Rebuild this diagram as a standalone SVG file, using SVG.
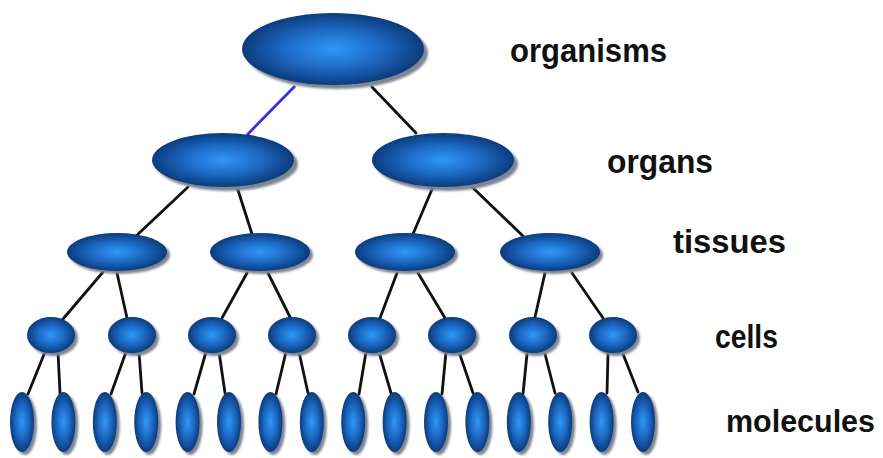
<svg xmlns="http://www.w3.org/2000/svg" width="883" height="458" viewBox="0 0 883 458">
<style>
.n{fill:url(#g);}
.s{fill:#7d8692;filter:url(#b);}
.c{stroke:#111;stroke-width:2.8;fill:none;stroke-linecap:round;}
.lbl{font-family:"Liberation Sans",Arial,sans-serif;font-weight:bold;font-size:33px;fill:#111;}
</style>
<defs>
<radialGradient id="g" cx="50%" cy="50%" r="50%">
<stop offset="0" stop-color="#2f98f8"/>
<stop offset="0.55" stop-color="#1c68c2"/>
<stop offset="1" stop-color="#0c3b7c"/>
</radialGradient>
<filter id="b" x="-20%" y="-20%" width="140%" height="140%"><feGaussianBlur stdDeviation="1.2"/></filter>
</defs>
<rect width="883" height="458" fill="#fff"/>
<g id="connectors">
<line x1="295" y1="86" x2="247" y2="135" stroke="#3a32e0" stroke-width="2.8"/>
<line class="c" x1="372" y1="87" x2="416" y2="133"/>
<line class="c" x1="188" y1="187" x2="135" y2="237"/>
<line class="c" x1="237" y1="187" x2="252" y2="234"/>
<line class="c" x1="433" y1="187" x2="413" y2="234"/>
<line class="c" x1="470" y1="185" x2="523" y2="236"/>
<line class="c" x1="103" y1="272" x2="63" y2="319"/>
<line class="c" x1="117" y1="273" x2="127" y2="318"/>
<line class="c" x1="247" y1="273" x2="222" y2="318"/>
<line class="c" x1="268" y1="273" x2="290" y2="317"/>
<line class="c" x1="397" y1="273" x2="380" y2="318"/>
<line class="c" x1="418" y1="273" x2="445" y2="318"/>
<line class="c" x1="545" y1="273" x2="535" y2="317"/>
<line class="c" x1="572" y1="273" x2="603" y2="318"/>
<line class="c" x1="45" y1="352" x2="28" y2="394"/>
<line class="c" x1="58" y1="352" x2="60" y2="393"/>
<line class="c" x1="126" y1="352" x2="111" y2="394"/>
<line class="c" x1="139" y1="352" x2="142" y2="393"/>
<line class="c" x1="206" y1="352" x2="194" y2="394"/>
<line class="c" x1="219" y1="352" x2="225" y2="393"/>
<line class="c" x1="286" y1="352" x2="276" y2="394"/>
<line class="c" x1="299" y1="352" x2="308" y2="393"/>
<line class="c" x1="366" y1="352" x2="359" y2="394"/>
<line class="c" x1="379" y1="352" x2="391" y2="393"/>
<line class="c" x1="446" y1="352" x2="442" y2="394"/>
<line class="c" x1="459" y1="352" x2="473" y2="393"/>
<line class="c" x1="527" y1="354" x2="523" y2="394"/>
<line class="c" x1="545" y1="354" x2="555" y2="393"/>
<line class="c" x1="608" y1="354" x2="607" y2="393"/>
<line class="c" x1="623" y1="354" x2="638" y2="392"/>
</g>
<g id="organisms"><ellipse class="s" cx="337" cy="53" rx="91" ry="36"/><ellipse class="n" cx="333" cy="49" rx="91" ry="36"/></g>
<g id="organ1"><ellipse class="s" cx="227" cy="164" rx="71" ry="27"/><ellipse class="n" cx="223" cy="160" rx="71" ry="27"/></g>
<g id="organ2"><ellipse class="s" cx="447" cy="164" rx="71" ry="27"/><ellipse class="n" cx="443" cy="160" rx="71" ry="27"/></g>
<g id="tissue1"><ellipse class="s" cx="120" cy="255" rx="50" ry="19"/><ellipse class="n" cx="117" cy="252" rx="50" ry="19"/></g>
<g id="tissue2"><ellipse class="s" cx="263" cy="255" rx="50" ry="19"/><ellipse class="n" cx="260" cy="252" rx="50" ry="19"/></g>
<g id="tissue3"><ellipse class="s" cx="408" cy="255" rx="50" ry="19"/><ellipse class="n" cx="405" cy="252" rx="50" ry="19"/></g>
<g id="tissue4"><ellipse class="s" cx="553" cy="255" rx="50" ry="19"/><ellipse class="n" cx="550" cy="252" rx="50" ry="19"/></g>
<g id="cell1"><ellipse class="s" cx="54" cy="338" rx="24" ry="18"/><ellipse class="n" cx="51" cy="335" rx="24" ry="18"/></g>
<g id="cell2"><ellipse class="s" cx="135" cy="338" rx="24" ry="18"/><ellipse class="n" cx="132" cy="335" rx="24" ry="18"/></g>
<g id="cell3"><ellipse class="s" cx="215" cy="338" rx="24" ry="18"/><ellipse class="n" cx="212" cy="335" rx="24" ry="18"/></g>
<g id="cell4"><ellipse class="s" cx="295" cy="338" rx="24" ry="18"/><ellipse class="n" cx="292" cy="335" rx="24" ry="18"/></g>
<g id="cell5"><ellipse class="s" cx="375" cy="338" rx="24" ry="18"/><ellipse class="n" cx="372" cy="335" rx="24" ry="18"/></g>
<g id="cell6"><ellipse class="s" cx="455" cy="338" rx="24" ry="18"/><ellipse class="n" cx="452" cy="335" rx="24" ry="18"/></g>
<g id="cell7"><ellipse class="s" cx="536" cy="338" rx="24" ry="18"/><ellipse class="n" cx="533" cy="335" rx="24" ry="18"/></g>
<g id="cell8"><ellipse class="s" cx="616" cy="338" rx="24" ry="18"/><ellipse class="n" cx="613" cy="335" rx="24" ry="18"/></g>
<g id="molecule1"><ellipse class="s" cx="25" cy="425" rx="12" ry="30"/><ellipse class="n" cx="22" cy="422" rx="12" ry="30"/></g>
<g id="molecule2"><ellipse class="s" cx="66.4" cy="425" rx="12" ry="30"/><ellipse class="n" cx="63.4" cy="422" rx="12" ry="30"/></g>
<g id="molecule3"><ellipse class="s" cx="107.8" cy="425" rx="12" ry="30"/><ellipse class="n" cx="104.8" cy="422" rx="12" ry="30"/></g>
<g id="molecule4"><ellipse class="s" cx="149.2" cy="425" rx="12" ry="30"/><ellipse class="n" cx="146.2" cy="422" rx="12" ry="30"/></g>
<g id="molecule5"><ellipse class="s" cx="190.6" cy="425" rx="12" ry="30"/><ellipse class="n" cx="187.6" cy="422" rx="12" ry="30"/></g>
<g id="molecule6"><ellipse class="s" cx="232" cy="425" rx="12" ry="30"/><ellipse class="n" cx="229" cy="422" rx="12" ry="30"/></g>
<g id="molecule7"><ellipse class="s" cx="273.4" cy="425" rx="12" ry="30"/><ellipse class="n" cx="270.4" cy="422" rx="12" ry="30"/></g>
<g id="molecule8"><ellipse class="s" cx="314.8" cy="425" rx="12" ry="30"/><ellipse class="n" cx="311.8" cy="422" rx="12" ry="30"/></g>
<g id="molecule9"><ellipse class="s" cx="356.2" cy="425" rx="12" ry="30"/><ellipse class="n" cx="353.2" cy="422" rx="12" ry="30"/></g>
<g id="molecule10"><ellipse class="s" cx="397.6" cy="425" rx="12" ry="30"/><ellipse class="n" cx="394.6" cy="422" rx="12" ry="30"/></g>
<g id="molecule11"><ellipse class="s" cx="439" cy="425" rx="12" ry="30"/><ellipse class="n" cx="436" cy="422" rx="12" ry="30"/></g>
<g id="molecule12"><ellipse class="s" cx="480.4" cy="425" rx="12" ry="30"/><ellipse class="n" cx="477.4" cy="422" rx="12" ry="30"/></g>
<g id="molecule13"><ellipse class="s" cx="521.8" cy="425" rx="12" ry="30"/><ellipse class="n" cx="518.8" cy="422" rx="12" ry="30"/></g>
<g id="molecule14"><ellipse class="s" cx="563.2" cy="425" rx="12" ry="30"/><ellipse class="n" cx="560.2" cy="422" rx="12" ry="30"/></g>
<g id="molecule15"><ellipse class="s" cx="604.6" cy="425" rx="12" ry="30"/><ellipse class="n" cx="601.6" cy="422" rx="12" ry="30"/></g>
<g id="molecule16"><ellipse class="s" cx="646" cy="425" rx="12" ry="30"/><ellipse class="n" cx="643" cy="422" rx="12" ry="30"/></g>
<g id="labels">
<text class="lbl" x="510" y="62" textLength="157" lengthAdjust="spacingAndGlyphs">organisms</text>
<text class="lbl" x="607" y="173" textLength="106" lengthAdjust="spacingAndGlyphs">organs</text>
<text class="lbl" x="673" y="253" textLength="113" lengthAdjust="spacingAndGlyphs">tissues</text>
<text class="lbl" x="715" y="348" textLength="63" lengthAdjust="spacingAndGlyphs">cells</text>
<text class="lbl" x="726" y="432" style="font-size:31px" textLength="149" lengthAdjust="spacingAndGlyphs">molecules</text>
</g>
</svg>
